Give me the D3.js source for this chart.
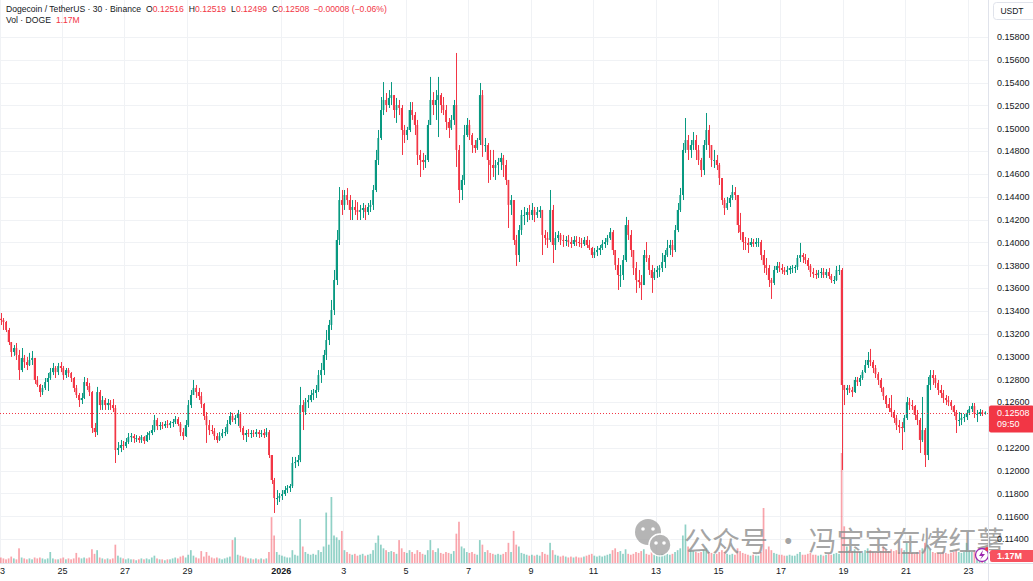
<!doctype html>
<html lang="en">
<head>
<meta charset="UTF-8">
<title>Dogecoin / TetherUS 30</title>
<style>
  html, body { margin: 0; padding: 0; background: #fff; }
  svg { display: block; font-family: "Liberation Sans", Arial, sans-serif; }
  .axis text { fill: #131722; font-size: 9px; }
  .axis path, .axis line { display: none; }
</style>
</head>
<body>
<div id="chart"></div>
<script src="https://d3js.org/d3.v7.min.js"></script>
<script>
// 2h candles, prices in 1e-5 USDT
const startTime = Date.UTC(2025, 11, 23)
const stepMs = 2 * 3600 * 1000
const firstOpen = 13330

const closes = [
  13320,13302,13232,13126,13039,13074,13013,12881,12987,12951,
  12925,12969,12987,12794,12750,12688,12724,12776,12811,12863,
  12899,12863,12916,12899,12837,12881,12855,12811,12724,12662,
  12618,12636,12776,12741,12688,12373,12337,12688,12574,12618,
  12574,12592,12574,12548,12180,12198,12224,12215,12250,12294,
  12302,12285,12285,12268,12294,12259,12311,12329,12355,12443,
  12390,12399,12390,12408,12399,12417,12425,12452,12408,12337,
  12302,12399,12574,12662,12724,12688,12653,12583,12478,12399,
  12355,12346,12302,12268,12302,12329,12337,12408,12478,12443,
  12461,12496,12373,12311,12329,12320,12329,12320,12337,12320,
  12329,12311,12337,12136,11917,11759,11759,11777,11794,11829,
  11847,11864,12066,12074,12092,12574,12513,12600,12618,12662,
  12680,12706,12837,12881,13013,13144,13276,13407,13670,14021,
  14371,14328,14415,14371,14284,14310,14284,14266,14284,14301,
  14266,14310,14328,14459,14722,14915,15160,15248,15204,15266,
  15291,15160,15204,15178,14985,14941,14985,15160,15116,15029,
  14766,14722,14704,14722,15029,15248,15204,15248,15291,15204,
  15160,15055,15003,15073,15204,14810,14459,14547,14941,15029,
  14941,14853,14827,14897,15291,14853,14853,14722,14678,14652,
  14678,14704,14740,14678,14547,14328,14371,14021,13889,14108,
  14240,14240,14266,14240,14284,14240,14266,14284,14065,14038,
  14021,14284,13977,14038,14065,14021,14012,14021,14003,13986,
  14021,14003,13995,13986,14021,13977,13951,13889,13915,13933,
  13951,13986,14003,14038,14090,13933,13802,13714,13714,13845,
  14152,14065,13933,13775,13670,13652,13626,13889,13863,13758,
  13688,13740,13758,13775,13828,13889,13951,13977,13933,14108,
  14284,14415,14810,14897,14810,14853,14897,14810,14722,14634,
  14853,14985,14853,14722,14722,14678,14564,14371,14301,14345,
  14389,14441,14415,14152,14090,14003,13995,13977,14003,13986,
  14003,14003,13889,13802,13775,13670,13644,13758,13793,13775,
  13758,13740,13758,13775,13775,13784,13863,13889,13872,13845,
  13793,13740,13723,13714,13732,13740,13714,13740,13705,13670,
  13670,13758,13758,12750,12706,12724,12706,12688,12794,12776,
  12811,12863,12925,12969,12951,12899,12846,12794,12724,12653,
  12583,12548,12513,12461,12399,12381,12373,12461,12600,12574,
  12565,12487,12443,12268,12355,12136,12750,12837,12811,12768,
  12706,12680,12636,12618,12600,12565,12513,12443,12443,12461,
  12469,12505,12539,12565,12496,12496,12513,12505,12508
]

const highs = [
  13381,13337,13311,13250,13118,13100,13118,13057,13074,13013,
  12996,13031,13048,12987,12828,12759,12750,12811,12855,12899,
  12943,12916,12943,12951,12916,12899,12899,12863,12820,12750,
  12680,12680,12820,12811,12768,12697,12417,12733,12706,12653,
  12636,12627,12618,12627,12574,12250,12268,12259,12285,12329,
  12329,12320,12311,12302,12311,12302,12337,12346,12399,12487,
  12461,12425,12425,12434,12443,12434,12452,12478,12469,12425,
  12373,12443,12618,12706,12794,12750,12724,12688,12592,12513,
  12443,12399,12373,12329,12337,12364,12381,12443,12513,12505,
  12487,12531,12513,12390,12355,12364,12355,12355,12364,12355,
  12355,12364,12373,12355,12136,11935,11829,11803,11829,11864,
  11873,11882,12119,12119,12136,12733,12618,12636,12662,12706,
  12715,12750,12881,12943,13057,13232,13320,13495,13758,14108,
  14485,14459,14459,14476,14415,14371,14371,14353,14328,14345,
  14328,14345,14371,14503,14810,14985,15274,15405,15309,15335,
  15405,15291,15266,15248,15204,15029,15012,15230,15230,15142,
  15073,14810,14784,14766,15073,15450,15317,15335,15450,15309,
  15274,15204,15090,15116,15248,15660,14853,14590,15029,15090,
  15073,14958,14897,14915,15397,15335,14915,14871,14810,14810,
  14722,14740,14784,14766,14722,14547,14415,14371,14065,14152,
  14284,14310,14301,14328,14345,14310,14310,14318,14284,14108,
  14090,14459,14328,14090,14099,14082,14065,14055,14065,14047,
  14055,14055,14047,14038,14047,14055,14021,13960,13951,13968,
  13977,14021,14038,14065,14126,14108,13933,13863,13802,13889,
  14223,14196,14108,13933,13828,13758,13714,13933,14003,13889,
  13802,13775,13793,13802,13907,13933,14021,14021,14021,14152,
  14345,14477,14871,15090,14941,14897,14967,14941,14853,14740,
  14897,15134,15029,14853,14810,14766,14696,14564,14389,14398,
  14415,14503,14485,14415,14258,14090,14047,14038,14038,14030,
  14038,14038,14021,13933,13863,13802,13688,13793,13828,13828,
  13810,13784,13793,13793,13802,13802,13889,13995,13907,13898,
  13863,13810,13775,13758,13758,13775,13775,13767,13775,13723,
  13705,13793,13802,13775,12750,12750,12750,12733,12820,12820,
  12837,12881,12969,13039,13066,12969,12925,12863,12811,12733,
  12662,12636,12662,12531,12487,12443,12425,12487,12645,12636,
  12618,12574,12531,12461,12645,12373,12820,12881,12881,12837,
  12794,12750,12706,12662,12653,12618,12574,12531,12513,12505,
  12496,12531,12565,12592,12592,12531,12539,12531,12519
]

const lows = [
  13276,13232,13214,13100,12996,13005,12969,12794,12863,12899,
  12881,12916,12925,12759,12733,12645,12662,12706,12697,12794,
  12837,12811,12837,12863,12794,12811,12820,12776,12688,12636,
  12557,12583,12627,12706,12653,12329,12294,12311,12531,12531,
  12531,12531,12531,12513,12066,12136,12162,12180,12198,12233,
  12250,12242,12250,12242,12242,12233,12250,12268,12311,12337,
  12355,12355,12364,12373,12373,12373,12381,12408,12390,12302,
  12268,12294,12381,12548,12662,12636,12618,12548,12443,12242,
  12311,12320,12268,12242,12259,12285,12302,12320,12399,12425,
  12408,12390,12337,12268,12250,12294,12285,12294,12294,12285,
  12294,12285,12294,12110,11882,11628,11698,11724,11742,11777,
  11803,11812,11847,12022,12039,12074,12355,12487,12548,12600,
  12618,12636,12688,12768,12837,12969,13100,13232,13363,13626,
  13977,14240,14284,14328,14196,14196,14240,14196,14196,14214,
  14196,14240,14266,14284,14441,14678,14897,15116,15142,15178,
  15204,15090,15047,15116,14766,14871,14897,14967,15073,14941,
  14678,14573,14634,14652,14704,15029,15116,15073,14923,15134,
  15116,14985,14915,14985,15029,14661,14345,14371,14503,14923,
  14897,14784,14784,14810,14853,14749,14792,14521,14547,14573,
  14547,14590,14634,14573,14503,14126,14240,13977,13793,13828,
  14065,14152,14178,14196,14196,14178,14214,14214,13889,13977,
  13951,14003,13819,13933,14003,13977,13960,13968,13960,13951,
  13968,13968,13960,13951,13968,13951,13933,13863,13863,13880,
  13889,13933,13951,13977,14021,13889,13758,13583,13609,13670,
  13828,14021,13872,13714,13557,13600,13495,13626,13828,13714,
  13557,13670,13688,13697,13740,13775,13872,13889,13872,13915,
  14090,14266,14371,14784,14722,14740,14810,14722,14678,14573,
  14590,14810,14740,14661,14652,14634,14503,14328,14240,14284,
  14310,14371,14371,14082,14021,13933,13933,13907,13960,13960,
  13960,13960,13845,13732,13714,13609,13504,13626,13732,13740,
  13723,13714,13714,13723,13732,13732,13758,13828,13819,13810,
  13758,13697,13688,13679,13688,13688,13688,13688,13679,13644,
  13635,13661,13714,12005,12574,12662,12680,12645,12680,12741,
  12741,12794,12855,12899,12916,12855,12811,12750,12688,12618,
  12548,12513,12469,12417,12355,12329,12180,12337,12443,12531,
  12531,12443,12399,12154,12250,12031,12092,12706,12750,12724,
  12662,12636,12592,12574,12565,12531,12478,12329,12390,12399,
  12425,12443,12487,12513,12461,12425,12478,12478,12490
]

// volume per candle, millions DOGE
const volumes = [
  6,5,4,5,7,5,4,16,6,5,4,5,4,6,5,6,5,4,5,12,
  5,4,4,5,6,4,5,4,5,11,6,5,6,5,6,15,10,14,6,5,
  4,5,4,5,20,8,6,5,4,5,4,4,3,4,5,4,5,4,6,8,
  5,4,4,3,4,4,5,6,5,7,8,6,9,14,8,6,5,13,7,12,
  8,6,5,6,5,4,5,6,7,25,28,9,8,7,6,5,5,4,5,4,
  5,4,5,12,50,30,12,9,8,7,6,6,14,9,8,48,18,12,10,9,
  10,9,14,12,18,55,20,72,30,28,25,35,14,12,10,9,10,8,9,10,
  8,9,10,14,22,30,20,16,14,12,13,12,10,25,16,12,11,14,12,10,
  14,12,10,9,14,25,14,12,16,11,10,12,11,10,13,32,45,18,16,12,
  11,12,10,9,25,20,12,14,11,10,9,10,9,10,12,22,12,35,20,18,
  11,10,9,8,9,8,9,8,12,10,9,22,14,9,8,7,8,7,6,7,
  6,7,6,6,7,8,9,10,8,7,8,7,8,9,10,14,16,12,13,10,
  15,10,9,10,12,11,13,15,10,9,12,9,8,9,10,9,10,9,10,12,
  14,16,30,42,18,14,13,12,11,12,14,16,12,11,10,10,12,14,12,10,
  9,10,9,16,13,11,10,9,8,9,8,8,12,60,15,18,14,11,10,9,
  9,8,8,9,8,8,10,12,9,9,10,11,9,9,8,9,8,9,10,9,
  10,11,10,120,40,18,14,13,15,12,12,11,14,16,14,12,11,12,13,18,
  14,13,15,13,14,12,16,14,22,12,11,10,12,14,16,22,20,14,12,11,
  11,10,12,11,10,11,12,14,12,11,12,22,13,12,14,11,10,11,6
]

const priceTicks = [0.114, 0.116, 0.118, 0.120, 0.122, 0.124, 0.126, 0.128, 0.130, 0.132, 0.134,
  0.136, 0.138, 0.140, 0.142, 0.144, 0.146, 0.148, 0.150, 0.152, 0.154, 0.156, 0.158]
const priceHidden = [0.124]   // covered by the last price label
const dateTicks = ['2025-12-23', '2025-12-25', '2025-12-27', '2025-12-29', '2026-01-01', '2026-01-03',
  '2026-01-05', '2026-01-07', '2026-01-09', '2026-01-11', '2026-01-13', '2026-01-15', '2026-01-17',
  '2026-01-19', '2026-01-21', '2026-01-23']
const dateLabels = ['23', '25', '27', '29', '2026', '3', '5', '7', '9', '11', '13', '15', '17', '19', '21', '23']

const lastPrice = 0.12508
const header = {
  title: 'Dogecoin / TetherUS · 30 · Binance',
  o: '0.12516', h: '0.12519', l: '0.12499', c: '0.12508',
  change: '−0.00008 (−0.06%)',
  vol: '1.17M'
}

const width = 1033
const height = 581
const plotW = 988
const plotH = 563
const up = '#089981'
const down = '#f23645'

const candles = closes.map((c, i) => {
  const o = i ? closes[i - 1] : firstOpen
  return {
    t: new Date(startTime + i * stepMs + stepMs / 2),
    o: o / 1e5,
    c: c / 1e5,
    h: Math.max(highs[i], o, c) / 1e5,
    l: Math.min(lows[i], o, c) / 1e5,
    v: volumes[i] || 0
  }
})

const x = d3.scaleUtc()
  .domain([Date.UTC(2025, 11, 23), Date.UTC(2026, 0, 23)])
  .range([-0.5, 967.9])
const y = d3.scaleLinear().domain([0.114, 0.158]).range([539, 37])
const yv = d3.scaleLinear().domain([0, 120]).range([plotH, plotH - 110])
const step = x(new Date(startTime + stepMs)) - x(new Date(startTime))
const bodyW = step * 0.66

const svg = d3.select('#chart').append('svg')
  .attr('width', width)
  .attr('height', height)

svg.append('defs').append('clipPath').attr('id', 'plot')
  .append('rect').attr('width', plotW).attr('height', plotH)

// grid
const grid = svg.append('g').attr('stroke', '#f0f2f5').attr('stroke-width', 1)
grid.selectAll('.h').data(priceTicks).enter().append('line')
  .attr('x1', 0).attr('x2', plotW)
  .attr('y1', d => Math.round(y(d)) + 0.5).attr('y2', d => Math.round(y(d)) + 0.5)
grid.selectAll('.v').data(dateTicks).enter().append('line')
  .attr('y1', 0).attr('y2', plotH)
  .attr('x1', d => Math.round(x(new Date(d + 'T00:00Z'))) + 0.5)
  .attr('x2', d => Math.round(x(new Date(d + 'T00:00Z'))) + 0.5)

const plot = svg.append('g').attr('clip-path', 'url(#plot)')

// volume
plot.append('g').selectAll('rect').data(candles).enter().append('rect')
  .attr('x', d => x(d.t) - bodyW / 2)
  .attr('width', bodyW)
  .attr('y', d => yv(d.v))
  .attr('height', d => plotH - yv(d.v))
  .attr('fill', d => d.c >= d.o ? up : down)
  .attr('fill-opacity', 0.45)

// watermark icon
const wm = plot.append('g').attr('opacity', 0.8)
wm.append('circle').attr('cx', 648).attr('cy', 532).attr('r', 13).attr('fill', '#a3a3a3')
wm.append('circle').attr('cx', 660).attr('cy', 545).attr('r', 11).attr('fill', '#a3a3a3')
  .attr('stroke', '#fff').attr('stroke-width', 1.5)
;[[643, 529], [653, 529], [656, 543], [664, 543]].forEach(([cx, cy]) => {
  wm.append('circle').attr('cx', cx).attr('cy', cy).attr('r', 1.8).attr('fill', '#fff')
})

// candles
const cg = plot.append('g')
cg.selectAll('line').data(candles).enter().append('line')
  .attr('x1', d => Math.round(x(d.t)) + 0.5)
  .attr('x2', d => Math.round(x(d.t)) + 0.5)
  .attr('y1', d => y(d.h))
  .attr('y2', d => y(d.l))
  .attr('stroke', d => d.c >= d.o ? up : down)
cg.selectAll('rect').data(candles).enter().append('rect')
  .attr('x', d => x(d.t) - bodyW / 2)
  .attr('width', bodyW)
  .attr('y', d => y(Math.max(d.o, d.c)))
  .attr('height', d => Math.max(1, Math.abs(y(d.o) - y(d.c))))
  .attr('fill', d => d.c >= d.o ? up : down)

// last price line
svg.append('line')
  .attr('x1', 0).attr('x2', plotW)
  .attr('y1', Math.round(y(lastPrice)) + 0.5).attr('y2', Math.round(y(lastPrice)) + 0.5)
  .attr('stroke', down).attr('stroke-dasharray', '1,2')

svg.append('text')
  .attr('x', 684).attr('y', 552)
  .attr('font-family', '"Noto Sans CJK SC", sans-serif')
  .attr('font-size', 28)
  .attr('fill', '#8c8c8c').attr('fill-opacity', 0.8)
  .text('公众号 · 冯宝宝在烤红薯')

// tradingview logo
const logo = svg.append('g')
logo.append('circle').attr('cx', 982).attr('cy', 555).attr('r', 6.5)
  .attr('fill', '#fff').attr('stroke', '#9c27b0').attr('stroke-width', 1.3)
logo.append('path').attr('d', 'M983,550 L979,556 L982,556 L980,560 L985,554 L982,554 Z').attr('fill', '#9c27b0')
logo.append('circle').attr('cx', 987).attr('cy', 549).attr('r', 2).attr('fill', down)

// separators
svg.append('line').attr('x1', plotW + 0.5).attr('x2', plotW + 0.5).attr('y1', 0).attr('y2', height)
  .attr('stroke', '#e0e3eb')
svg.append('line').attr('x1', 0).attr('x2', width).attr('y1', plotH + 0.5).attr('y2', plotH + 0.5)
  .attr('stroke', '#e0e3eb')

// price axis
svg.append('g')
  .attr('class', 'axis')
  .attr('transform', `translate(${plotW},0)`)
  .call(d3.axisRight(y)
    .tickValues(priceTicks.filter(d => !priceHidden.includes(d)))
    .tickFormat(d3.format('.5f'))
    .tickSize(0)
    .tickPadding(9))

// time axis
svg.append('g')
  .attr('class', 'axis')
  .attr('transform', `translate(0,${plotH})`)
  .call(d3.axisBottom(x)
    .tickValues(dateTicks.map(d => new Date(d + 'T00:00Z')))
    .tickFormat((d, i) => dateLabels[i])
    .tickSize(0)
    .tickPadding(5))
  .selectAll('text')
  .attr('font-weight', (d, i) => dateLabels[i] === '2026' ? 'bold' : null)

// USDT box
svg.append('rect').attr('x', 993.5).attr('y', 2.5).attr('width', 44).attr('height', 17).attr('rx', 3)
  .attr('fill', '#fff').attr('stroke', '#e0e3eb')
svg.append('text').attr('x', 1012).attr('y', 14).attr('text-anchor', 'middle')
  .attr('font-size', 8.5).attr('fill', '#131722').text('USDT')

// last price label
const ly = y(lastPrice)
svg.append('rect').attr('x', plotW + 1).attr('y', ly - 7).attr('width', width - plotW).attr('height', 27)
  .attr('rx', 2).attr('fill', down)
svg.append('text').attr('x', plotW + 9).attr('y', ly + 3.3)
  .attr('font-size', 9).attr('fill', '#fff').text(lastPrice.toFixed(5))
svg.append('text').attr('x', plotW + 9).attr('y', ly + 14)
  .attr('font-size', 9).attr('fill', '#fff').text('09:50')

// volume label
svg.append('rect').attr('x', plotW + 2).attr('y', 550).attr('width', width - plotW).attr('height', 12)
  .attr('rx', 2).attr('fill', '#f7525f')
svg.append('text').attr('x', plotW + 9).attr('y', 559)
  .attr('font-size', 9).attr('font-weight', 'bold').attr('fill', '#fff').text(header.vol)

// header
const h1 = svg.append('text').attr('x', 6).attr('y', 11.5).attr('font-size', 8.6).attr('fill', '#131722')
h1.append('tspan').text(header.title)
;[['O', header.o], ['H', header.h], ['L', header.l], ['C', header.c]].forEach(([k, v]) => {
  h1.append('tspan').attr('dx', 5).text(k)
  h1.append('tspan').attr('fill', down).text(v)
})
h1.append('tspan').attr('dx', 4).attr('fill', down).text(header.change)

const h2 = svg.append('text').attr('x', 6).attr('y', 22.7).attr('font-size', 8.6).attr('fill', '#131722')
h2.append('tspan').text('Vol · DOGE')
h2.append('tspan').attr('dx', 5).attr('fill', down).text(header.vol)
</script>
</body>
</html>
